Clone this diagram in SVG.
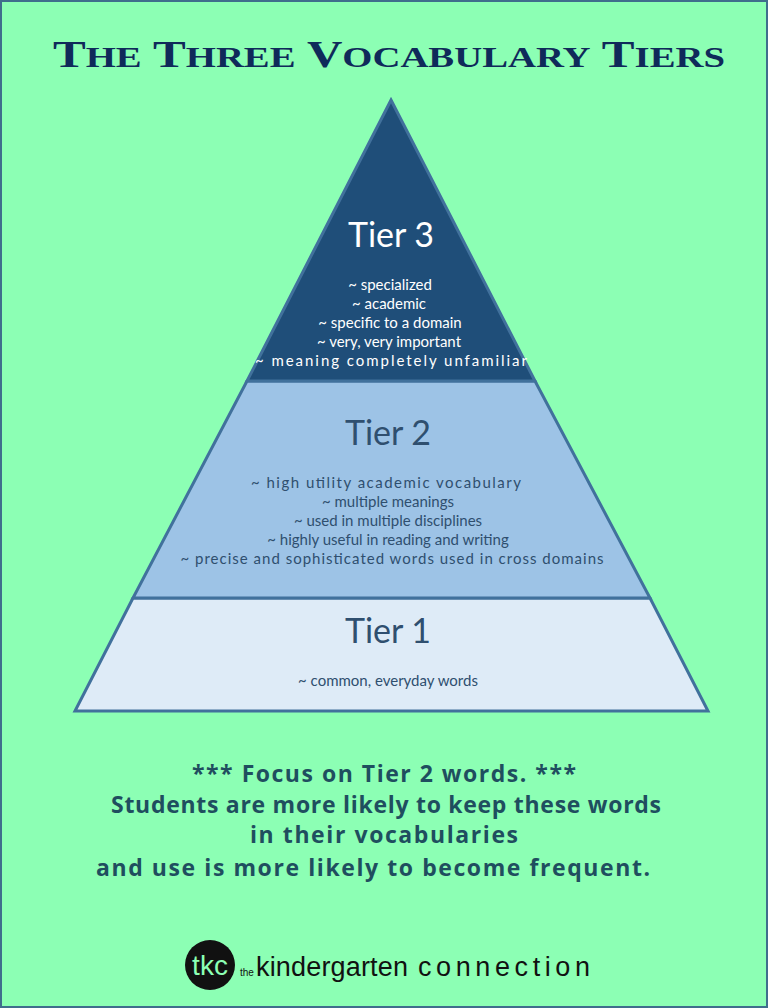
<svg xmlns="http://www.w3.org/2000/svg" width="768" height="1008" viewBox="0 0 768 1008">
<style>
.tier{stroke:#41719c;stroke-width:3;stroke-linejoin:miter}
.h{font-family:"Lato","Open Sans","Liberation Sans",sans-serif;font-size:34px;text-anchor:middle}
.b{font-family:"Lato","Open Sans","Liberation Sans",sans-serif;font-size:15px;text-anchor:middle}
.f{font-family:"Open Sans","Liberation Sans",sans-serif;font-size:23px;font-weight:bold;fill:#1f4e5f;text-anchor:middle}
</style>
<rect x="1" y="1" width="766" height="1006" fill="#8cffb4" stroke="#3f6e8c" stroke-width="2"/>
<text x="389" y="67" font-family="Liberation Serif,serif" font-weight="bold" fill="#0f2a5a" text-anchor="middle" font-size="38" textLength="672" lengthAdjust="spacingAndGlyphs">T<tspan font-size="30">HE</tspan> T<tspan font-size="30">HREE</tspan> V<tspan font-size="30">OCABULARY</tspan> T<tspan font-size="30">IERS</tspan></text>
<g id="tier1"><polygon class="tier" points="133,598 650,598 708,711 75,711" fill="#deebf7"/>
<text class="h" x="388" y="643" fill="#2f4f6f">Tier 1</text>
<text class="b" x="388" y="686" fill="#2f4f6f">~ common, everyday words</text></g>
<g id="tier2"><polygon class="tier" points="247,381 535,381 650,598 133,598" fill="#9dc3e6"/>
<text class="h" x="388" y="445" fill="#2f4f6f">Tier 2</text>
<text class="b" fill="#2f4f6f"><tspan x="386" y="488" textLength="270">~ high utility academic vocabulary</tspan><tspan x="388" y="507">~ multiple meanings</tspan><tspan x="388" y="526">~ used in multiple disciplines</tspan><tspan x="388" y="545">~ highly useful in reading and writing</tspan><tspan x="392" y="564" textLength="423">~ precise and sophisticated words used in cross domains</tspan></text></g>
<g id="tier3"><polygon class="tier" points="391,100 535,381 247,381" fill="#1f4e79"/>
<text class="h" x="391" y="247" fill="#ffffff">Tier 3</text>
<text class="b" fill="#ffffff"><tspan x="390" y="290">~ specialized</tspan><tspan x="389" y="309">~ academic</tspan><tspan x="390" y="328">~ specific to a domain</tspan><tspan x="389" y="347">~ very, very important</tspan><tspan x="391" y="366" textLength="272">~ meaning completely unfamiliar</tspan></text></g>
<g id="footer"><text class="f"><tspan x="384" y="782" textLength="384">*** Focus on Tier 2 words. ***</tspan><tspan x="386" y="813" textLength="550">Students are more likely to keep these words</tspan><tspan x="384" y="843" textLength="268">in their vocabularies</tspan><tspan x="373" y="876" textLength="554">and use is more likely to become frequent.</tspan></text></g>
<g id="logo"><circle cx="210" cy="965" r="25" fill="#111"/>
<text x="210" y="975" font-family="Liberation Sans,sans-serif" font-size="28" fill="#8cffb4" text-anchor="middle">tkc</text>
<text x="240" y="976" font-family="Liberation Sans,sans-serif" font-size="10" fill="#111">the</text>
<text x="256" y="976" font-family="Liberation Sans,sans-serif" font-size="27" fill="#111" textLength="152">kindergarten</text>
<text x="418" y="976" font-family="Liberation Sans,sans-serif" font-size="27" fill="#111" textLength="172">connection</text></g>
</svg>
